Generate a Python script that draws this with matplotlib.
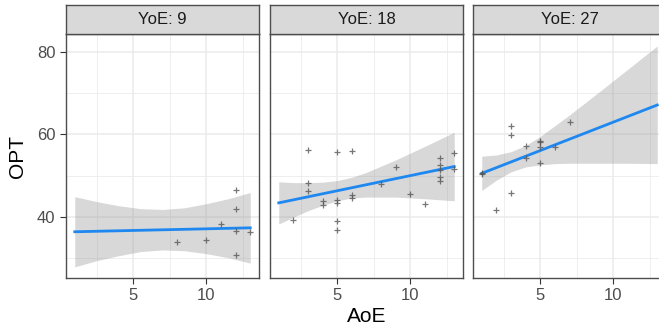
"""Facetted OPT vs AoE scatter with linear fits, one panel per YoE group."""

import matplotlib
matplotlib.use("Agg")
import matplotlib.pyplot as plt

plt.rcParams["font.family"] = ["Liberation Sans", "DejaVu Sans"]

# --- data ------------------------------------------------------------------
panels = ["YoE: 9", "YoE: 18", "YoE: 27"]

aoe_9 = [12, 12, 11, 12, 13, 10, 8, 12]
opt_9 = [46.4, 41.9, 38.3, 36.5, 36.3, 34.5, 34.0, 30.8]

aoe_18 = [3, 5, 6, 3, 3, 2, 4, 4, 5, 5, 6, 6, 5, 5, 8, 9, 10, 11,
          12, 12, 12, 12, 12, 13, 13]
opt_18 = [56.3, 55.7, 56.0, 48.2, 46.2, 39.2, 43.8, 42.8, 44.1, 43.4,
          45.3, 44.6, 38.9, 36.8, 47.9, 52.2, 45.6, 43.2, 54.3, 52.5,
          51.4, 49.6, 48.7, 55.4, 51.5]

aoe_27 = [1, 1, 2, 3, 3, 3, 4, 4, 5, 5, 5, 5, 6, 7]
opt_27 = [50.3, 50.6, 41.7, 62.0, 59.8, 45.8, 57.2, 54.2, 58.4, 58.2,
          56.9, 53.0, 57.0, 63.0]

# fitted line end points
fit_x = [1, 13]
fit_9 = [36.4, 37.35]
fit_18 = [43.4, 52.2]
fit_27 = [50.55, 67.1]

# confidence band (upper / lower) read at a few AoE values
band_x_9 = [1, 2.5, 4, 5.5, 7, 8.5, 10, 11.5, 13]
band_hi_9 = [44.9, 43.7, 42.7, 42.0, 41.8, 42.2, 43.2, 44.4, 45.9]
band_lo_9 = [27.9, 29.4, 30.6, 31.6, 32.0, 31.8, 31.1, 30.1, 28.8]

band_x_18 = [1, 2, 3, 4, 5, 6, 7, 9, 11, 13]
band_hi_18 = [48.5, 48.3, 48.3, 48.4, 48.8, 49.6, 50.8, 53.8, 57.1, 60.5]
band_lo_18 = [38.3, 39.9, 41.5, 42.8, 43.9, 44.6, 44.8, 44.8, 44.4, 43.9]

band_x_27 = [1, 2, 3, 4, 5, 6, 7, 9, 11, 13]
band_hi_27 = [54.7, 55.0, 55.8, 57.3, 59.5, 62.1, 64.7, 70.2, 75.8, 81.4]
band_lo_27 = [46.4, 48.9, 50.9, 52.1, 52.6, 52.9, 53.0, 53.0, 53.0, 52.9]

x_major = [5, 10]
x_minor = [2.5, 7.5, 12.5]
y_major = [40, 60, 80]
y_minor = [30, 50, 70]

series = [
    (aoe_9, opt_9, fit_9, band_x_9, band_hi_9, band_lo_9),
    (aoe_18, opt_18, fit_18, band_x_18, band_hi_18, band_lo_18),
    (aoe_27, opt_27, fit_27, band_x_27, band_hi_27, band_lo_27),
]

W, H = 659, 328
fig = plt.figure(figsize=(W / 100, H / 100), dpi=100)

border = "#4d4d4d"
lefts = [66, 270, 473]
pw = 193
top, strip_bot, bot = 5, 34, 278


def box(x0, y0, x1, y1):
    return [x0 / W, 1 - y1 / H, (x1 - x0) / W, (y1 - y0) / H]


for i, (label, (xs, ys, fy, bx, bhi, blo)) in enumerate(zip(panels, series)):
    x0 = lefts[i]
    ax = fig.add_axes(box(x0, strip_bot, x0 + pw, bot))
    ax.set_xlim(0.4, 13.6)
    ax.set_ylim(25.2, 84.3)
    ax.set_xticks(x_major)
    ax.set_xticks(x_minor, minor=True)
    ax.set_yticks(y_major)
    ax.set_yticks(y_minor, minor=True)
    ax.grid(which="major", color="#ebebeb", lw=1.1)
    ax.grid(which="minor", color="#ebebeb", lw=0.6)
    ax.set_axisbelow(True)
    for s in ax.spines.values():
        s.set_color(border)
        s.set_linewidth(1.0)
    ax.tick_params(which="minor", length=0)
    ax.tick_params(which="major", length=4.5, width=0.8, color="#333333",
                   labelsize=12, labelcolor="#4d4d4d", pad=3)
    if i > 0:
        ax.tick_params(axis="y", which="major", length=0, labelleft=False)

    ax.fill_between(bx, blo, bhi, color="#999999", alpha=0.38, lw=0, zorder=2)
    ax.plot(fit_x, fy, color="#1e88f0", lw=2.0, zorder=3)
    ax.plot(xs, ys, ls="none", marker="+", ms=4, mew=0.9,
            color="#555555", alpha=0.8, zorder=4)

    sax = fig.add_axes(box(x0, top, x0 + pw, strip_bot))
    sax.set_facecolor("#d9d9d9")
    sax.set_xticks([])
    sax.set_yticks([])
    for s in sax.spines.values():
        s.set_color(border)
        s.set_linewidth(1.0)
    sax.text(0.5, 0.5, label, ha="center", va="center", fontsize=12,
             color="#1a1a1a", transform=sax.transAxes)

fig.text((lefts[1] + pw / 2) / W, 1 - 316 / H, "AoE", ha="center",
         va="center", fontsize=15, color="black")
fig.text(17.5 / W, 1 - 156 / H, "OPT", ha="center", va="center",
         rotation=90, fontsize=15, color="black")

fig.savefig("out.png", dpi=100)
